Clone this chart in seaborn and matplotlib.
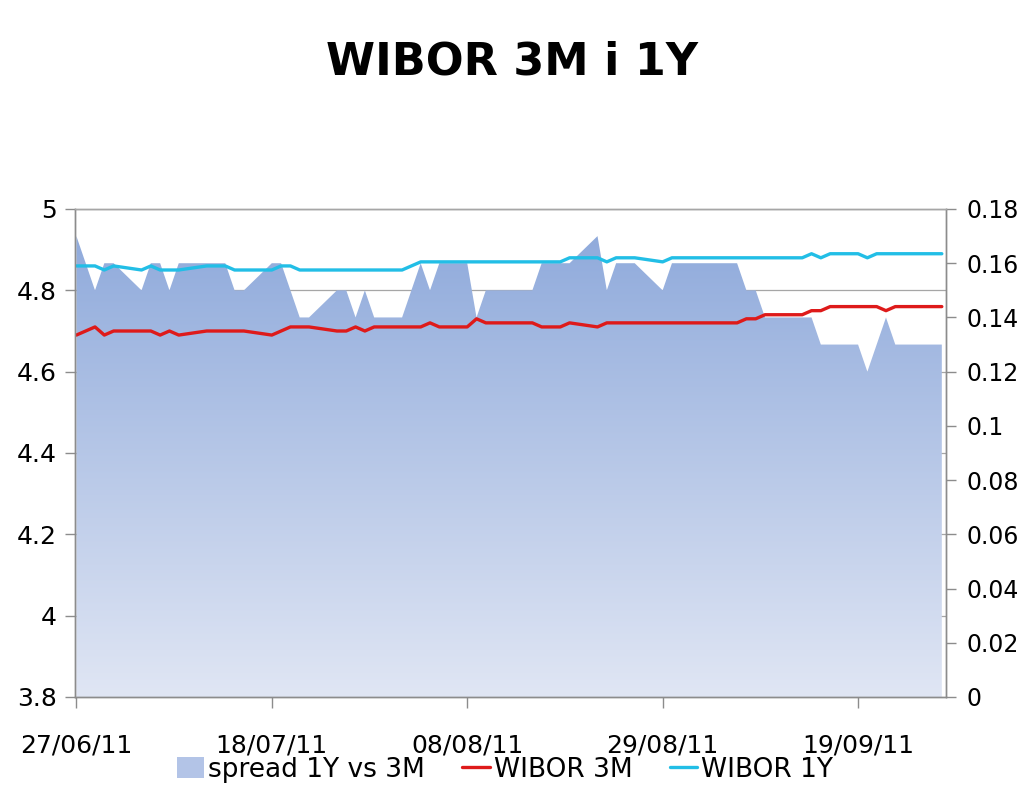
import matplotlib
matplotlib.use("Agg")
import matplotlib.pyplot as plt
import matplotlib.dates as mdates
from matplotlib.colors import LinearSegmentedColormap
from matplotlib.patches import Patch
from matplotlib.lines import Line2D
from matplotlib.ticker import FuncFormatter
import seaborn as sns
import pandas as pd
import numpy as np

# business days of the fixings
dates = [
    "2011-06-27", "2011-06-28", "2011-06-29", "2011-06-30", "2011-07-01",
    "2011-07-04", "2011-07-05", "2011-07-06", "2011-07-07", "2011-07-08",
    "2011-07-11", "2011-07-12", "2011-07-13", "2011-07-14", "2011-07-15",
    "2011-07-18", "2011-07-19", "2011-07-20", "2011-07-21", "2011-07-22",
    "2011-07-25", "2011-07-26", "2011-07-27", "2011-07-28", "2011-07-29",
    "2011-08-01", "2011-08-02", "2011-08-03", "2011-08-04", "2011-08-05",
    "2011-08-08", "2011-08-09", "2011-08-10", "2011-08-11", "2011-08-12",
    "2011-08-15", "2011-08-16", "2011-08-17", "2011-08-18", "2011-08-19",
    "2011-08-22", "2011-08-23", "2011-08-24", "2011-08-25", "2011-08-26",
    "2011-08-29", "2011-08-30", "2011-08-31", "2011-09-01", "2011-09-02",
    "2011-09-05", "2011-09-06", "2011-09-07", "2011-09-08", "2011-09-09",
    "2011-09-12", "2011-09-13", "2011-09-14", "2011-09-15", "2011-09-16",
    "2011-09-19", "2011-09-20", "2011-09-21", "2011-09-22", "2011-09-23",
    "2011-09-26", "2011-09-27", "2011-09-28",
]

wibor_3m = [
    4.69, 4.70, 4.71, 4.69, 4.70,
    4.70, 4.70, 4.69, 4.70, 4.69,
    4.70, 4.70, 4.70, 4.70, 4.70,
    4.69, 4.70, 4.71, 4.71, 4.71,
    4.70, 4.70, 4.71, 4.70, 4.71,
    4.71, 4.71, 4.71, 4.72, 4.71,
    4.71, 4.73, 4.72, 4.72, 4.72,
    4.72, 4.71, 4.71, 4.71, 4.72,
    4.71, 4.72, 4.72, 4.72, 4.72,
    4.72, 4.72, 4.72, 4.72, 4.72,
    4.72, 4.72, 4.73, 4.73, 4.74,
    4.74, 4.74, 4.75, 4.75, 4.76,
    4.76, 4.76, 4.76, 4.75, 4.76,
    4.76, 4.76, 4.76,
]

wibor_1y = [
    4.86, 4.86, 4.86, 4.85, 4.86,
    4.85, 4.86, 4.85, 4.85, 4.85,
    4.86, 4.86, 4.86, 4.85, 4.85,
    4.85, 4.86, 4.86, 4.85, 4.85,
    4.85, 4.85, 4.85, 4.85, 4.85,
    4.85, 4.86, 4.87, 4.87, 4.87,
    4.87, 4.87, 4.87, 4.87, 4.87,
    4.87, 4.87, 4.87, 4.87, 4.88,
    4.88, 4.87, 4.88, 4.88, 4.88,
    4.87, 4.88, 4.88, 4.88, 4.88,
    4.88, 4.88, 4.88, 4.88, 4.88,
    4.88, 4.88, 4.89, 4.88, 4.89,
    4.89, 4.88, 4.89, 4.89, 4.89,
    4.89, 4.89, 4.89,
]

spread = [
    0.17, 0.16, 0.15, 0.16, 0.16,
    0.15, 0.16, 0.16, 0.15, 0.16,
    0.16, 0.16, 0.16, 0.15, 0.15,
    0.16, 0.16, 0.15, 0.14, 0.14,
    0.15, 0.15, 0.14, 0.15, 0.14,
    0.14, 0.15, 0.16, 0.15, 0.16,
    0.16, 0.14, 0.15, 0.15, 0.15,
    0.15, 0.16, 0.16, 0.16, 0.16,
    0.17, 0.15, 0.16, 0.16, 0.16,
    0.15, 0.16, 0.16, 0.16, 0.16,
    0.16, 0.16, 0.15, 0.15, 0.14,
    0.14, 0.14, 0.14, 0.13, 0.13,
    0.13, 0.12, 0.13, 0.14, 0.13,
    0.13, 0.13, 0.13,
]

tick_dates = ["2011-06-27", "2011-07-18", "2011-08-08", "2011-08-29", "2011-09-19"]
left_ticks = [3.8, 4.0, 4.2, 4.4, 4.6, 4.8, 5.0]
right_ticks = [0, 0.02, 0.04, 0.06, 0.08, 0.1, 0.12, 0.14, 0.16, 0.18]

df = pd.DataFrame({
    "date": pd.to_datetime(dates),
    "WIBOR 3M": wibor_3m,
    "WIBOR 1Y": wibor_1y,
    "spread": spread,
})

red = "#DE1A1A"
cyan = "#22BEE6"
grid_col = "#A6A6A6"
spine_col = "#8C8C8C"

sns.set_style("white")
plt.rcParams["font.family"] = ["DejaVu Sans"]
plt.rcParams["text.color"] = "black"
plt.rcParams["xtick.labelcolor"] = "black"
plt.rcParams["ytick.labelcolor"] = "black"

fig = plt.figure(figsize=(10.24, 7.91), dpi=100)
ax = fig.add_axes([75 / 1024, 1 - 697 / 791, 871 / 1024, 488 / 791])
ax2 = ax.twinx()
ax.set_zorder(ax2.get_zorder() + 1)
ax.patch.set_visible(False)

x0 = mdates.date2num(pd.Timestamp("2011-06-27")) - 0.15
x1 = mdates.date2num(pd.Timestamp("2011-09-28")) + 0.45
lo, hi = left_ticks[0], left_ticks[-1]
rhi = right_ticks[-1]

# gridlines of the left scale, drawn behind the area
for v in left_ticks[1:]:
    ax2.axhline((v - lo) / (hi - lo) * rhi, color=grid_col, lw=0.9, zorder=0.5)

# spread area with vertical gradient
poly = ax2.fill_between(df["date"], df["spread"], 0, color="none", lw=0)
cmap = LinearSegmentedColormap.from_list("spr", ["#E0E6F4", "#8BA7DA"])
grad = np.linspace(0, 1, 256).reshape(-1, 1)
img = ax2.imshow(grad, extent=[x0, x1, 0, rhi], origin="lower", cmap=cmap,
                 aspect="auto", zorder=1)
img.set_clip_path(poly.get_paths()[0], transform=ax2.transData)

sns.lineplot(data=df, x="date", y="WIBOR 3M", ax=ax, color=red, lw=2.4, legend=False)
sns.lineplot(data=df, x="date", y="WIBOR 1Y", ax=ax, color=cyan, lw=2.4, legend=False)

ax.set_xlim(x0, x1)
ax.set_ylim(lo, hi)
ax2.set_ylim(0, rhi)
ax.set_yticks(left_ticks)
ax2.set_yticks(right_ticks)
fmt = FuncFormatter(lambda v, p: "%g" % round(v, 4))
ax.yaxis.set_major_formatter(fmt)
ax2.yaxis.set_major_formatter(fmt)
ax.set_xticks(pd.to_datetime(tick_dates))
ax.xaxis.set_major_formatter(mdates.DateFormatter("%d/%m/%y"))
ax.set_xlabel("")
ax.set_ylabel("")
ax2.set_ylabel("")

ax.tick_params(axis="x", direction="out", length=8, width=1, color=spine_col,
               labelsize=18, pad=18, bottom=True)
ax.tick_params(axis="y", direction="out", length=7, width=1, color=spine_col,
               labelsize=18, pad=6, left=True)
ax2.tick_params(axis="y", direction="out", length=7, width=1, color=spine_col,
                labelsize=17, pad=8, right=True)

for a in (ax, ax2):
    for side, sp in a.spines.items():
        sp.set_color(spine_col if side != "top" else grid_col)
        sp.set_linewidth(1.0)

fig.text(0.5, 1 - 62 / 791, "WIBOR 3M i 1Y", ha="center", va="center",
         fontsize=32, fontweight="bold", color="black")

handles = [
    Patch(facecolor="#B3C4E7", edgecolor="none"),
    Line2D([], [], color=red, lw=2.4),
    Line2D([], [], color=cyan, lw=2.4),
]
fig.legend(handles, ["spread 1Y vs 3M", "WIBOR 3M", "WIBOR 1Y"], loc="center",
           bbox_to_anchor=(505 / 1024, 1 - 770 / 791), ncol=3, frameon=False,
           fontsize=19, handlelength=1.05, handleheight=0.85, handletextpad=0.15,
           columnspacing=1.4, borderpad=0)

fig.savefig("out.png", dpi=100)
